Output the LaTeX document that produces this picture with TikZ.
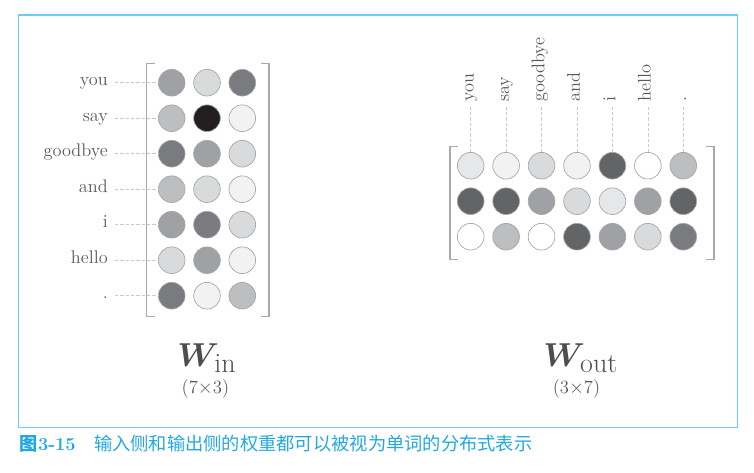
\documentclass[tikz,border=0pt]{standalone}
\usepackage{amsmath}
\usepackage{fontspec}
\usepackage{tikz}
\newfontfamily\cjk{Noto Sans CJK SC}
\definecolor{soft}{HTML}{58595B}
\definecolor{ink}{HTML}{4D4D4F}
\definecolor{rulec}{HTML}{A7A9AC}
\definecolor{dashc}{HTML}{C8C9CB}
\definecolor{edge}{HTML}{A3A5A8}
\definecolor{framec}{HTML}{6CCDF4}
\definecolor{capc}{HTML}{22A8E1}
\definecolor{gW}{HTML}{FFFFFF}
\definecolor{gA}{HTML}{F2F2F2}
\definecolor{gB}{HTML}{E6E7E8}
\definecolor{gC}{HTML}{D9DADB}
\definecolor{gD}{HTML}{BCBEC0}
\definecolor{gE}{HTML}{A0A1A4}
\definecolor{gF}{HTML}{7A7B7E}
\definecolor{gG}{HTML}{636466}
\definecolor{gK}{HTML}{231F20}

\begin{document}
\begin{tikzpicture}[x=0.75pt,y=-0.75pt,
  cell/.style={circle,minimum size=20pt,inner sep=0pt,draw=edge,line width=0.5pt},
  word/.style={soft,font=\fontsize{13.7}{16}\selectfont,inner ysep=0pt},
  link/.style={dashc,dash pattern=on 2.5pt off 1.5pt,line width=0.5pt},
  brk/.style={rulec,line width=0.9pt},
  title/.style={ink,anchor=base,font=\fontsize{33}{36}\selectfont},
  dims/.style={soft,font=\fontsize{14}{16}\selectfont}]
  \useasboundingbox (0,0) rectangle (754,472);
  \draw[framec,line width=1.1pt] (18.3,15) rectangle (737.7,427.3);
  % W_in: one row per word
  \foreach \w/\a/\b/\c [count=\i] in {you/gE/gC/gF, say/gD/gK/gA,
      goodbye/gF/gE/gC, and/gD/gC/gA, i/gE/gF/gC, hello/gC/gE/gA, ./gF/gA/gD} {
    \pgfmathsetmacro\ry{82.7+35.5*(\i-1)}
    \node[cell,fill=\a] (in-\i-1) at (171.7,\ry) {};
    \node[cell,fill=\b] (in-\i-2) at (207,\ry) {};
    \node[cell,fill=\c] (in-\i-3) at (242.3,\ry) {};
    \node[word,anchor=mid east,inner xsep=5.25pt] (lin-\i) at (115,\ry) {\w};
    \draw[link] (lin-\i.mid east) -- (in-\i-1);
  }
  % W_out: one column per word
  \foreach \w/\a/\b/\c [count=\i] in {you/gB/gG/gW, say/gA/gG/gD,
      goodbye/gC/gE/gW, and/gA/gC/gG, i/gG/gB/gE, hello/gW/gE/gC, ./gD/gG/gF} {
    \pgfmathsetmacro\cx{470.7+35.43*(\i-1)}
    \node[cell,fill=\a] (out-1-\i) at (\cx,165.7) {};
    \node[cell,fill=\b] (out-2-\i) at (\cx,201.2) {};
    \node[cell,fill=\c] (out-3-\i) at (\cx,236.7) {};
    \node[word,rotate=90,anchor=mid west,inner xsep=3.5pt] (lout-\i) at (\cx,106.7) {\w};
    \draw[link] (lout-\i.mid west) -- (out-1-\i);
  }
  % brackets
  \draw[brk] (154.7,63.3) -- (146.7,63.3) -- (146.7,316.7) -- (154.7,316.7);
  \draw[brk] (261,63.3) -- (269,63.3) -- (269,316.7) -- (261,316.7);
  \draw[brk] (458,146.7) -- (450,146.7) -- (450,259.3) -- (458,259.3);
  \draw[brk] (706,146.7) -- (714,146.7) -- (714,259.3) -- (706,259.3);
  % names and sizes
  \node[title] (win) at (206.5,366.7)
    {$\boldsymbol{W}$\kern-3.5pt\raisebox{-4.5pt}{\fontsize{21}{22}\selectfont in}};
  \node[dims] (win-dim) at (205.4,389) {(7$\times$3)};
  \node[title] (wout) at (580.3,366.7)
    {$\boldsymbol{W}$\kern-3.5pt\raisebox{-4.5pt}{\fontsize{21}{22}\selectfont out}};
  \node[dims] (wout-dim) at (576.5,389) {(3$\times$7)};
  % caption
  \node[capc,anchor=west,inner sep=0pt,font=\fontsize{13.7}{16}\selectfont] (cap) at (19.5,443.5)
    {{\cjk\bfseries 图}\textbf{3-15}\hspace{1em}{\cjk 输入侧和输出侧的权重都可以被视为单词的分布式表示}};
\end{tikzpicture}
\end{document}
